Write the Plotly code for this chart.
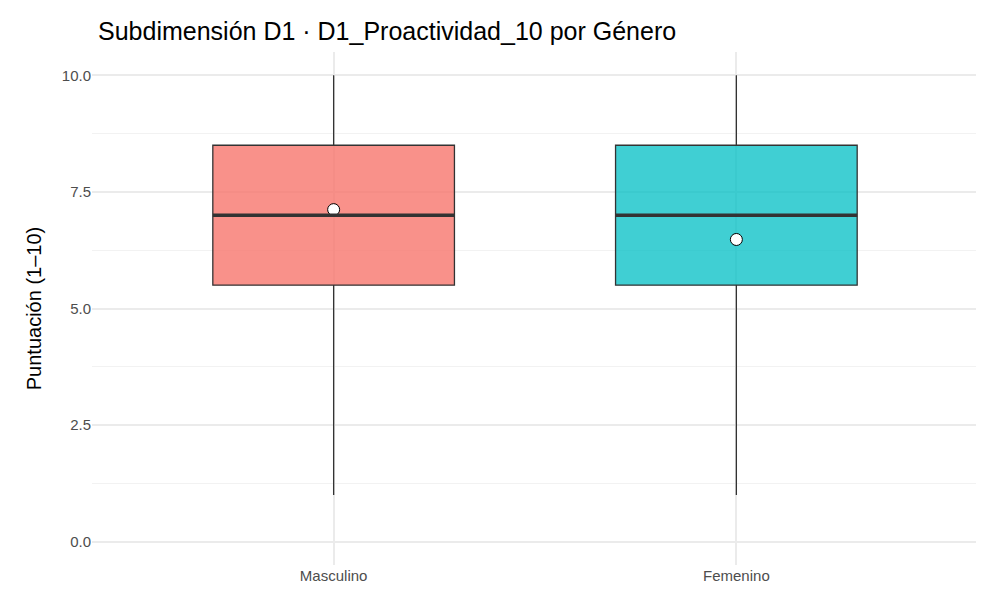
import plotly.graph_objects as go

generos = ["Masculino", "Femenino"]
minimo = [1, 1]
q1 = [5.5, 5.5]
mediana = [7, 7]
q3 = [8.5, 8.5]
maximo = [10, 10]
medias = [7.12, 6.48]
colores = ["rgba(248,118,109,0.8)", "rgba(0,191,196,0.75)"]

fig = go.Figure()
for i, g in enumerate(generos):
    fig.add_trace(go.Box(
        x=[g], q1=[q1[i]], median=[mediana[i]], q3=[q3[i]],
        lowerfence=[minimo[i]], upperfence=[maximo[i]],
        fillcolor=colores[i], line=dict(color="#333333", width=1.3),
        whiskerwidth=0, width=0.6, showlegend=False, hoverinfo="skip"))
    # median drawn thicker, like ggplot
    fig.add_trace(go.Scatter(
        x=[i - 0.3, i + 0.3], y=[mediana[i], mediana[i]], xaxis="x2",
        mode="lines", line=dict(color="#333333", width=3.5),
        showlegend=False, hoverinfo="skip"))

fig.add_trace(go.Scatter(
    x=generos, y=medias, mode="markers",
    marker=dict(color="white", size=12, line=dict(color="black", width=1)),
    showlegend=False))

fig.update_layout(
    width=984, height=606,
    margin=dict(l=84, r=14, t=44, b=49),
    plot_bgcolor="white", paper_bgcolor="white",
    font=dict(family="Liberation Sans, Arial", color="#4d4d4d", size=15),
    title=dict(text="Subdimensión D1 · D1_Proactividad_10 por Género",
               x=90 / 984, xanchor="left", y=0.962, yanchor="middle",
               font=dict(size=25, color="black")),
    xaxis=dict(showgrid=True, gridcolor="#ebebeb", gridwidth=1.5,
               ticks="", zeroline=False, range=[-0.6, 1.6],
               tickfont=dict(size=15, color="#4d4d4d")),
    xaxis2=dict(overlaying="x", range=[-0.6, 1.6], visible=False),
    yaxis=dict(range=[-0.5, 10.5], tickvals=[0, 2.5, 5, 7.5, 10],
               ticktext=["0.0", "2.5", "5.0", "7.5", "10.0"],
               showgrid=True, gridcolor="#ebebeb", gridwidth=1.5,
               minor=dict(tickvals=[1.25, 3.75, 6.25, 8.75], showgrid=True,
                          gridcolor="#f2f2f2", gridwidth=1),
               zeroline=False, ticks="",
               title=dict(text="Puntuación (1–10)", standoff=14,
                          font=dict(size=20, color="black")),
               tickfont=dict(size=15, color="#4d4d4d")),
)

fig.write_html("out.html")
